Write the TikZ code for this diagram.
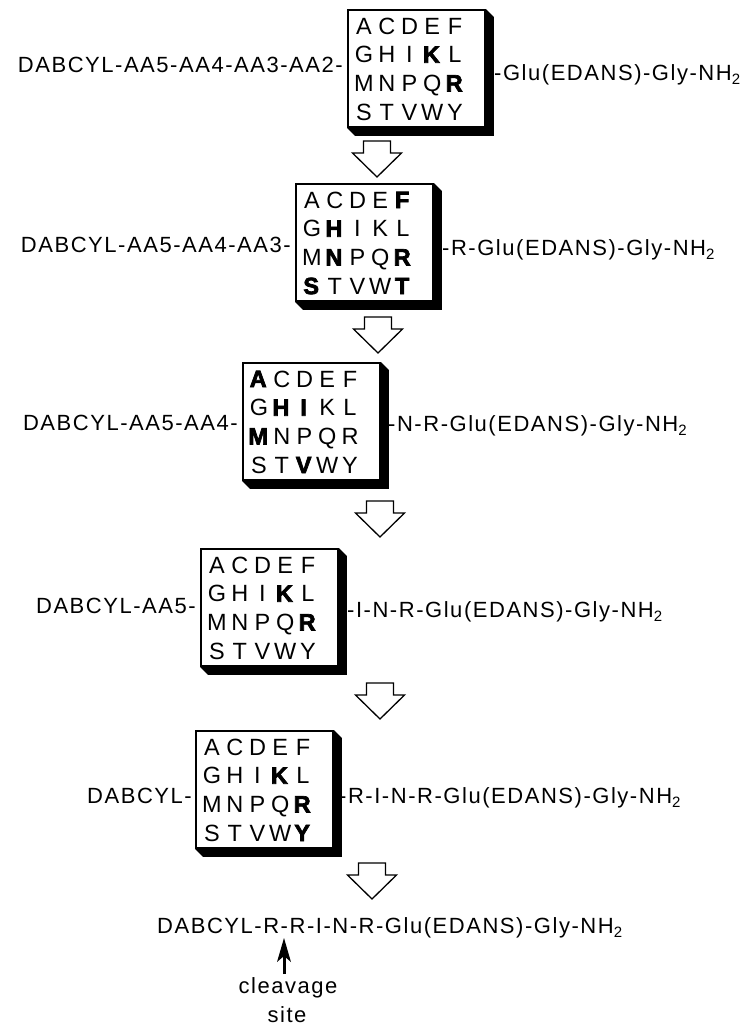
\documentclass[tikz,border=0pt]{standalone}
\usepackage{fontspec}
\setmainfont{Liberation Sans}[LetterSpace=7, BoldFeatures={FakeBold=3}]
\usetikzlibrary{arrows.meta}
\newcommand{\sub}[1]{\raisebox{-0.35ex}{\fontsize{15}{15}\selectfont #1}}
\newcommand{\B}[1]{\textbf{#1}}
\begin{document}
\begin{tikzpicture}[x=1pt,y=-1pt,
  txt/.style={inner sep=0pt, font=\fontsize{22}{26}\selectfont},
  ltr/.style={inner sep=0pt, anchor=base, font=\fontsize{23.5}{26}\selectfont},
  gridbox/.style={draw, line width=1.8pt, fill=white, minimum width=137pt, minimum height=117pt, inner sep=0pt, anchor=north west},
  boxshadow/.style={fill=black},
  blockarrow/.style={draw, line width=1.3pt, fill=white, line join=miter},
]
\useasboundingbox (0,0) rectangle (750,1029);
\newcommand{\gridbox}[7]{%
  \node[gridbox] (#1) at (#2,#3) {};
  \fill[boxshadow] (#1.south west) -- ++(8,8) -- ([shift={(8,8)}]#1.south east)
     -- ([shift={(8,8)}]#1.north east) -- (#1.north east) -- (#1.south east) -- cycle;
  \foreach \row [count=\r] in {{#4},{#5},{#6},{#7}} {
    \foreach \l [count=\c] in \row {
      \pgfmathsetmacro{\xx}{17+22.75*(\c-1)}
      \pgfmathsetmacro{\yy}{25+28.7*(\r-1)}
      \node[ltr] (#1-\r-\c) at ([shift={(\xx,\yy)}]#1.north west) {\l};
    }
  }
}
\newcommand{\blockdown}[3]{%
  \coordinate (#1) at (#2,#3);
  \draw[blockarrow, shift={(#1)}] (-13.5,0) -- (13.5,0) -- (13.5,12) -- (24.5,12)
     -- (0,36) -- (-24.5,12) -- (-13.5,12) -- cycle;
}
% boxes
\gridbox{b1}{347}{9}{A,C,D,E,F}{G,H,I,\B{K},L}{M,N,P,Q,\B{R}}{S,T,V,W,Y}
\gridbox{b2}{295}{183}{A,C,D,E,\B{F}}{G,\B{H},I,K,L}{M,\B{N},P,Q,\B{R}}{\B{S},T,V,W,\B{T}}
\gridbox{b3}{242}{362}{\B{A},C,D,E,F}{G,\B{H},\B{I},K,L}{\B{M},N,P,Q,R}{S,T,\B{V},W,Y}
\gridbox{b4}{200}{548}{A,C,D,E,F}{G,H,I,\B{K},L}{M,N,P,Q,\B{R}}{S,T,V,W,Y}
\gridbox{b5}{195}{730}{A,C,D,E,F}{G,H,I,\B{K},L}{M,N,P,Q,\B{R}}{S,T,V,W,\B{Y}}
% side texts
\node[txt, anchor=base east] (l1) at (343,72) {DABCYL-AA5-AA4-AA3-AA2-};
\node[txt, anchor=base west] (r1) at (494,80) {-Glu(EDANS)-Gly-NH\sub{2}};
\node[txt, anchor=base east] (l2) at (291,252) {DABCYL-AA5-AA4-AA3-};
\node[txt, anchor=base west] (r2) at (442,255) {-R-Glu(EDANS)-Gly-NH\sub{2}};
\node[txt, anchor=base east] (l3) at (238,430) {DABCYL-AA5-AA4-};
\node[txt, anchor=base west] (r3) at (388,431) {-N-R-Glu(EDANS)-Gly-NH\sub{2}};
\node[txt, anchor=base east] (l4) at (196,613) {DABCYL-AA5-};
\node[txt, anchor=base west] (r4) at (347,617) {-I-N-R-Glu(EDANS)-Gly-NH\sub{2}};
\node[txt, anchor=base east] (l5) at (192,803) {DABCYL-};
\node[txt, anchor=base west] (r5) at (339,803) {-R-I-N-R-Glu(EDANS)-Gly-NH\sub{2}};
% block arrows
\blockdown{a1}{377}{141}
\blockdown{a2}{378}{317}
\blockdown{a3}{380}{501}
\blockdown{a4}{380}{683}
\blockdown{a5}{372}{863}
% final product
\node[txt, anchor=base west] (fin) at (157,933) {DABCYL-R-R-I-N-R-Glu(EDANS)-Gly-NH\sub{2}};
\node[txt, anchor=base] (clv) at (288,993) {cleavage};
\node[txt, anchor=base] (site) at (287,1022) {site};
\coordinate (cut) at (284,938);
\coordinate (tail) at (284,974);
\draw[line width=3pt] (tail) -- ([yshift=-14pt]cut);
\fill (cut) -- ++(7,24) -- ++(-7,-6) -- ++(-7,6) -- cycle;
\end{tikzpicture}
\end{document}
